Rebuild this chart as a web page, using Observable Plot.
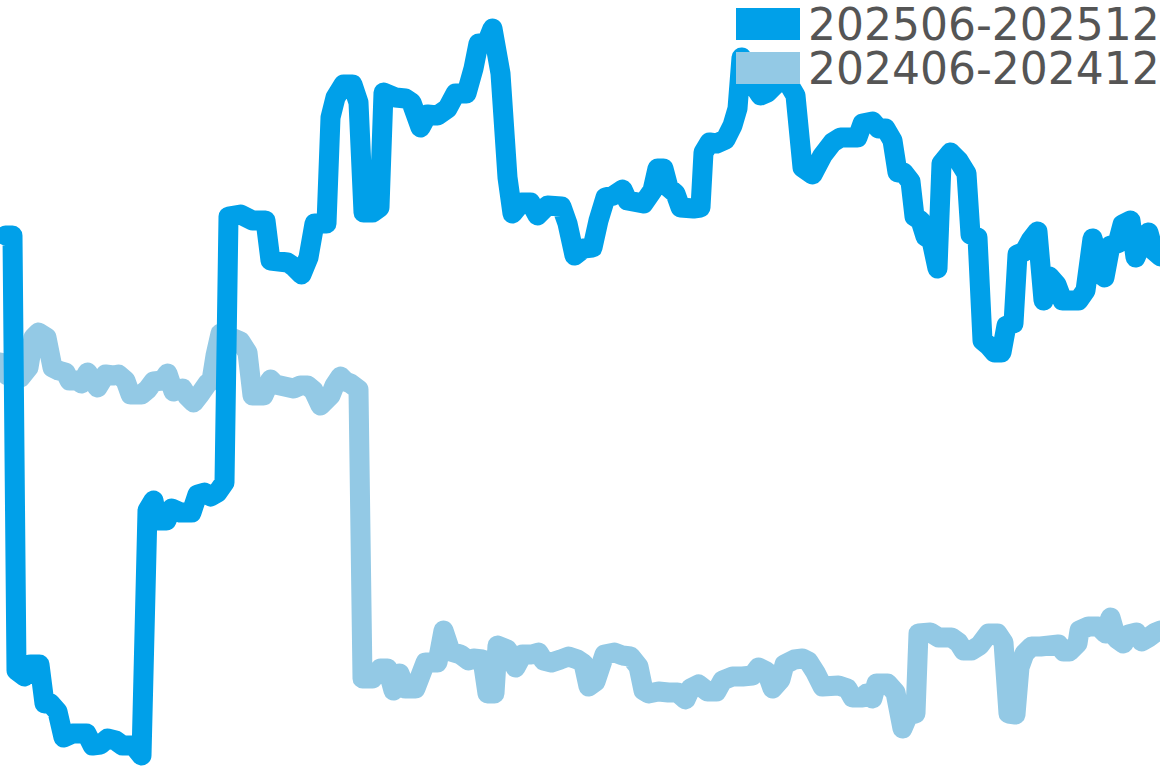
<!DOCTYPE html>
<html>
<head>
<meta charset="utf-8">
<script src="https://cdn.jsdelivr.net/npm/d3@7"></script>
<script src="https://cdn.jsdelivr.net/npm/@observablehq/plot@0.6"></script>
<style>
  html, body { margin: 0; padding: 0; background: #fff; }
  #wrap { position: relative; width: 1160px; height: 768px; overflow: hidden; }
  #chart svg { display: block; }
  #legend { position: absolute; left: 736px; top: 2px; font-family: "DejaVu Sans", sans-serif; font-size: 44px; color: #555; }
  .row { display: flex; align-items: center; height: 44px; }
  .sw { width: 64px; height: 32px; margin-right: 8px; }
  .lbl { display: inline-block; height: 32px; line-height: 32px; position: relative; top: 1px; }
</style>
</head>
<body>
<div id="wrap">
  <div id="chart"></div>
  <div id="legend"></div>
</div>
<script>
const seriesNames = ["202506-202512", "202406-202412"];
const seriesColors = ["#00a0e9", "#93c9e5"];

// 202506-202512
const darkT = [0.5,1.2,1.6,2.4,3.0,3.9,4.4,5.0,5.7,6.3,7.2,8.6,9.2,10.0,10.7,11.5,12.2,13.3,14.1,14.7,15.3,15.7,16.6,17.1,18.0,19.1,19.7,20.4,21.0,21.7,22.4,22.8,24.0,25.2,26.5,27.0,28.7,29.3,30.1,30.8,31.4,32.6,33.0,33.5,34.3,35.2,35.8,36.3,37.2,37.9,38.3,39.5,40.5,41.1,42.0,42.7,43.7,44.7,45.5,46.6,47.3,47.8,48.6,49.2,50.0,50.7,51.2,52.1,53.0,53.7,54.7,56.1,56.7,57.4,58.3,59.2,59.8,60.5,61.3,62.2,62.7,64.3,65.2,65.7,66.3,66.8,67.5,68.0,69.3,70.0,70.3,70.9,71.6,72.5,73.2,73.7,74.1,75.0,76.0,76.7,77.5,78.5,79.5,80.2,81.2,82.2,83.2,84.0,85.7,86.2,87.2,87.8,88.5,89.2,89.7,90.3,91.0,91.4,92.0,92.5,93.1,93.7,94.1,95.0,95.8,96.6,97.0,97.7,98.2,98.8,99.4,100.1,100.6,101.3,101.7,102.4,103.0,103.7,104.3,104.9,105.6,106.2,107.8,108.5,109.2,110.4,111.0,111.7,112.2,113.0,113.5,114.3,114.8,115.3,116.0];
const darkV = [53.3,53.3,9.8,9.2,10.4,10.4,6.5,6.5,5.7,3.1,3.5,3.5,2.3,2.4,3.0,2.8,2.3,2.3,1.3,25.8,26.8,24.8,24.8,26.0,25.6,25.6,27.4,27.6,27.2,27.6,28.6,55.2,55.4,54.8,54.8,50.8,50.6,50.2,49.4,51.1,54.5,54.5,65.1,67.1,68.4,68.4,66.6,55.6,55.6,56.1,67.6,67.1,67.0,66.6,64.1,65.4,65.3,66.0,67.5,67.5,70.0,72.5,72.5,74.0,69.5,59.1,55.5,56.6,56.6,55.3,56.3,56.2,54.5,51.3,52.0,52.1,54.8,57.1,57.3,57.9,56.8,56.5,57.8,60.0,60.0,58.1,57.5,56.1,56.0,56.1,61.6,62.6,62.5,62.9,64.3,66.0,71.1,68.8,67.3,67.6,68.4,69.0,67.3,60.1,59.4,61.3,62.6,63.1,63.1,64.5,64.7,64.0,64.0,62.8,59.6,59.6,58.7,55.2,54.8,53.2,52.8,50.0,60.5,61.6,60.8,59.5,53.4,53.1,42.8,42.3,41.6,41.6,44.3,44.5,51.4,51.7,52.8,53.7,46.8,49.2,48.4,46.8,46.8,47.8,53.0,49.1,52.3,52.5,54.4,54.8,51.1,53.0,53.6,51.8,51.2];

// 202406-202412
const lightT = [0.0,0.7,2.0,2.8,3.3,3.8,4.6,5.2,5.8,6.5,6.9,7.7,8.1,8.7,9.7,10.5,11.3,11.8,12.5,13.0,14.1,14.7,15.3,16.2,16.7,17.3,18.2,18.7,19.3,20.0,20.7,21.1,21.5,22.0,23.3,24.0,24.7,25.2,26.3,27.0,27.5,28.4,29.3,30.0,30.7,31.3,32.0,33.0,33.4,34.0,34.5,35.0,35.8,36.2,37.2,38.0,38.7,39.3,39.9,40.5,41.5,42.5,43.7,44.3,45.0,46.0,46.8,47.3,48.2,48.7,49.4,49.7,50.7,51.5,52.2,53.1,53.8,54.3,55.1,56.0,56.8,57.7,58.3,58.8,59.5,60.4,61.4,62.2,63.0,63.8,64.3,64.8,65.8,66.8,67.7,68.5,69.0,69.8,70.7,71.6,72.2,73.2,74.2,75.2,75.8,76.6,77.2,78.0,78.4,79.4,80.2,80.8,81.5,82.2,83.8,84.7,85.2,86.2,86.6,87.2,87.6,88.7,89.5,90.2,90.8,91.5,91.8,93.0,93.8,95.1,95.8,96.3,97.1,97.9,98.8,99.7,100.3,100.8,101.5,101.9,102.4,103.1,104.0,105.8,106.3,106.9,107.7,107.9,108.8,109.8,110.5,111.0,111.6,112.3,112.8,113.6,114.1,114.8,115.5,116.0];
const lightV = [40.6,39.3,39.1,40.1,43.1,43.6,43.1,40.1,39.8,39.6,38.8,38.8,38.5,39.6,38.1,39.4,39.3,39.4,38.8,37.4,37.4,37.9,38.7,38.8,39.5,37.7,38.0,37.2,36.6,37.5,38.5,38.8,41.3,43.5,43.0,42.7,41.6,37.3,37.3,38.9,38.4,38.2,38.0,38.3,38.3,37.8,36.3,37.3,38.3,39.2,38.7,38.5,37.9,9.0,9.0,10.0,10.0,7.8,9.5,8.0,8.0,10.6,10.6,13.8,11.7,11.4,10.8,11.0,10.9,7.5,7.5,12.3,11.9,10.1,11.4,11.4,11.6,10.8,10.6,10.9,11.2,10.9,10.5,8.2,8.7,11.4,11.6,11.3,11.2,10.2,7.8,7.5,7.7,7.6,7.6,6.9,8.0,8.4,7.7,7.7,8.8,9.2,9.2,9.3,10.1,9.7,8.0,8.9,10.4,10.9,11.0,10.7,9.6,8.2,8.3,8.0,7.1,7.1,7.5,7.0,8.5,8.5,7.6,4.0,5.4,5.5,13.5,13.6,13.1,13.1,12.6,11.8,11.8,12.3,13.5,13.5,12.6,5.5,5.4,10.1,11.5,12.2,12.2,12.4,11.7,11.7,12.5,13.8,14.2,14.2,13.5,15.1,13.0,12.5,13.4,13.6,12.7,13.1,13.6,13.8];

const dark = darkT.map((t, i) => ({t, v: darkV[i]}));
const light = lightT.map((t, i) => ({t, v: lightV[i]}));

const chart = Plot.plot({
  width: 1160,
  height: 768,
  margin: 0,
  x: {domain: [0, 116], axis: null},
  y: {domain: [0, 76.8], axis: null},
  style: {background: "#fff", overflow: "visible"},
  marks: [
    Plot.line(light, {x: "t", y: "v", stroke: seriesColors[1], strokeWidth: 20, strokeLinejoin: "round", strokeLinecap: "round"}),
    Plot.line(dark, {x: "t", y: "v", stroke: seriesColors[0], strokeWidth: 20, strokeLinejoin: "round", strokeLinecap: "round"})
  ]
});
document.getElementById("chart").appendChild(chart);

const legend = document.getElementById("legend");
seriesNames.forEach((name, i) => {
  const row = document.createElement("div");
  row.className = "row";
  const sw = document.createElement("div");
  sw.className = "sw";
  sw.style.background = seriesColors[i];
  const lbl = document.createElement("span");
  lbl.className = "lbl";
  lbl.textContent = name;
  row.appendChild(sw);
  row.appendChild(lbl);
  legend.appendChild(row);
});
</script>
</body>
</html>
